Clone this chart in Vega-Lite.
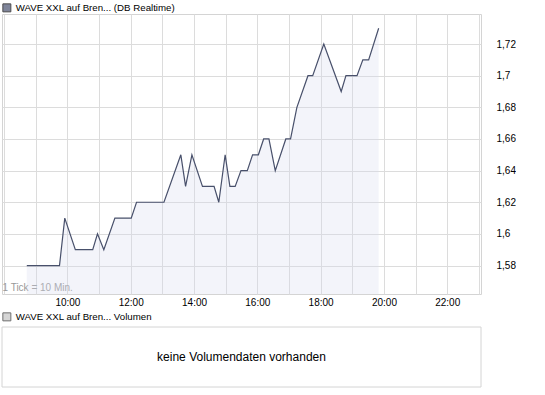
{
  "$schema": "https://vega.github.io/schema/vega-lite/v6.json",
  "background": "white",
  "padding": {"left": 1, "top": 2, "right": 0, "bottom": 0},
  "bounds": "flush",
  "spacing": 33,
  "config": {
    "font": "Liberation Sans",
    "view": {"stroke": "#d4d4d4", "strokeWidth": 1},
    "axis": {"gridColor": "#dcdcdc", "gridWidth": 1, "labelColor": "#000000", "labelFont": "Liberation Sans", "labelFontSize": 10}
  },
  "resolve": {"scale": {"fill": "independent"}, "legend": {"fill": "independent"}},
  "datasets": {
    "price": [
      {"t": "2024-01-01T08:43:00", "v": 1.58},
      {"t": "2024-01-01T09:45:00", "v": 1.58},
      {"t": "2024-01-01T09:55:00", "v": 1.61},
      {"t": "2024-01-01T10:15:00", "v": 1.59},
      {"t": "2024-01-01T10:48:00", "v": 1.59},
      {"t": "2024-01-01T10:57:00", "v": 1.60},
      {"t": "2024-01-01T11:09:00", "v": 1.59},
      {"t": "2024-01-01T11:30:00", "v": 1.61},
      {"t": "2024-01-01T12:01:00", "v": 1.61},
      {"t": "2024-01-01T12:11:00", "v": 1.62},
      {"t": "2024-01-01T13:03:00", "v": 1.62},
      {"t": "2024-01-01T13:35:00", "v": 1.65},
      {"t": "2024-01-01T13:44:00", "v": 1.63},
      {"t": "2024-01-01T13:56:00", "v": 1.65},
      {"t": "2024-01-01T14:16:00", "v": 1.63},
      {"t": "2024-01-01T14:38:00", "v": 1.63},
      {"t": "2024-01-01T14:47:00", "v": 1.62},
      {"t": "2024-01-01T14:59:00", "v": 1.65},
      {"t": "2024-01-01T15:08:00", "v": 1.63},
      {"t": "2024-01-01T15:18:00", "v": 1.63},
      {"t": "2024-01-01T15:29:00", "v": 1.64},
      {"t": "2024-01-01T15:41:00", "v": 1.64},
      {"t": "2024-01-01T15:51:00", "v": 1.65},
      {"t": "2024-01-01T16:02:00", "v": 1.65},
      {"t": "2024-01-01T16:12:00", "v": 1.66},
      {"t": "2024-01-01T16:22:00", "v": 1.66},
      {"t": "2024-01-01T16:34:00", "v": 1.64},
      {"t": "2024-01-01T16:54:00", "v": 1.66},
      {"t": "2024-01-01T17:03:00", "v": 1.66},
      {"t": "2024-01-01T17:15:00", "v": 1.68},
      {"t": "2024-01-01T17:36:00", "v": 1.70},
      {"t": "2024-01-01T17:45:00", "v": 1.70},
      {"t": "2024-01-01T18:06:00", "v": 1.72},
      {"t": "2024-01-01T18:39:00", "v": 1.69},
      {"t": "2024-01-01T18:48:00", "v": 1.70},
      {"t": "2024-01-01T19:09:00", "v": 1.70},
      {"t": "2024-01-01T19:20:00", "v": 1.71},
      {"t": "2024-01-01T19:31:00", "v": 1.71},
      {"t": "2024-01-01T19:50:00", "v": 1.73}
    ]
  },
  "vconcat": [
    {
      "width": 479,
      "height": 280,
      "encoding": {
        "x": {
          "field": "t",
          "type": "temporal",
          "scale": {"domain": [
            {"year": 2024, "month": 1, "date": 1, "hours": 7, "minutes": 56},
            {"year": 2024, "month": 1, "date": 1, "hours": 23, "minutes": 4}
          ]},
          "axis": {
            "values": [
              {"year": 2024, "month": 1, "date": 1, "hours": 8},
              {"year": 2024, "month": 1, "date": 1, "hours": 9},
              {"year": 2024, "month": 1, "date": 1, "hours": 10},
              {"year": 2024, "month": 1, "date": 1, "hours": 11},
              {"year": 2024, "month": 1, "date": 1, "hours": 12},
              {"year": 2024, "month": 1, "date": 1, "hours": 13},
              {"year": 2024, "month": 1, "date": 1, "hours": 14},
              {"year": 2024, "month": 1, "date": 1, "hours": 15},
              {"year": 2024, "month": 1, "date": 1, "hours": 16},
              {"year": 2024, "month": 1, "date": 1, "hours": 17},
              {"year": 2024, "month": 1, "date": 1, "hours": 18},
              {"year": 2024, "month": 1, "date": 1, "hours": 19},
              {"year": 2024, "month": 1, "date": 1, "hours": 20},
              {"year": 2024, "month": 1, "date": 1, "hours": 21},
              {"year": 2024, "month": 1, "date": 1, "hours": 22},
              {"year": 2024, "month": 1, "date": 1, "hours": 23}
            ],
            "format": "%H:%M",
            "labelExpr": "(hours(datum.value) % 2 == 0 && hours(datum.value) >= 10) ? timeFormat(datum.value, '%H:%M') : ''",
            "grid": true,
            "ticks": false,
            "tickSize": 0,
            "domain": false,
            "labelPadding": 3,
            "labelFlush": false,
            "title": "1 Tick = 10 Min.",
            "titleLimit": 0,
            "titleX": 0,
            "titleY": -4,
            "titleAlign": "left",
            "titleAnchor": "start",
            "titleBaseline": "alphabetic",
            "titleFont": "Liberation Sans",
            "titleFontSize": 10,
            "titleFontWeight": "normal",
            "titleColor": "#999999"
          }
        },
        "y": {
          "field": "v",
          "type": "quantitative",
          "scale": {"domain": [1.562, 1.739], "zero": false, "nice": false},
          "axis": {
            "orient": "right",
            "values": [1.58, 1.6, 1.62, 1.64, 1.66, 1.68, 1.7, 1.72],
            "labelExpr": "replace(format(datum.value, '.2~f'), '.', ',')",
            "grid": true,
            "ticks": false,
            "tickSize": 0,
            "domain": false,
            "labelPadding": 15,
            "labelAlign": "left",
            "labelBaseline": "middle",
            "title": null
          }
        }
      },
      "layer": [
        {
          "data": {"name": "price"},
          "mark": {"type": "area", "color": "#d7daee", "opacity": 0.3},
          "encoding": {"y2": {"datum": 1.562}}
        },
        {
          "data": {"name": "price"},
          "mark": {"type": "line", "color": "#48506b", "strokeWidth": 1.2}
        },
        {
          "data": {"values": []},
          "mark": {"type": "square"},
          "encoding": {
            "x": null,
            "y": null,
            "fill": {
              "datum": "WAVE XXL auf Bren... (DB Realtime)",
              "scale": {"domain": ["WAVE XXL auf Bren... (DB Realtime)"], "range": ["#4a5270"]},
              "legend": {
                "orient": "none",
                "legendX": 0,
                "legendY": -11,
                "title": null,
                "symbolType": "square",
                "symbolSize": 64,
                "symbolStrokeColor": "#000000",
                "symbolStrokeWidth": 1,
                "labelFont": "Liberation Sans",
                "labelFontSize": 9.7,
                "labelColor": "#000000",
                "labelOffset": 4,
                "labelLimit": 0,
                "padding": 0
              }
            }
          }
        }
      ]
    },
    {
      "width": 479,
      "height": 60,
      "data": {"values": [{"msg": "keine Volumendaten vorhanden"}]},
      "layer": [
        {
          "mark": {"type": "rect", "fill": "#ffffff", "stroke": "#d4d4d4", "strokeWidth": 1},
          "encoding": {}
        },
        {
          "mark": {"type": "text", "fontSize": 12, "color": "#000000", "font": "Liberation Sans"},
          "encoding": {"text": {"field": "msg"}}
        },
        {
          "data": {"values": []},
          "mark": {"type": "square"},
          "encoding": {
            "fill": {
              "datum": "WAVE XXL auf Bren... Volumen",
              "scale": {"domain": ["WAVE XXL auf Bren... Volumen"], "range": ["#c4c4c4"]},
              "legend": {
                "orient": "none",
                "legendX": 0,
                "legendY": -15,
                "title": null,
                "symbolType": "square",
                "symbolSize": 64,
                "symbolStrokeColor": "#333333",
                "symbolStrokeWidth": 1,
                "labelFont": "Liberation Sans",
                "labelFontSize": 9.7,
                "labelColor": "#000000",
                "labelOffset": 4,
                "labelLimit": 0,
                "padding": 0
              }
            }
          }
        }
      ]
    }
  ]
}
